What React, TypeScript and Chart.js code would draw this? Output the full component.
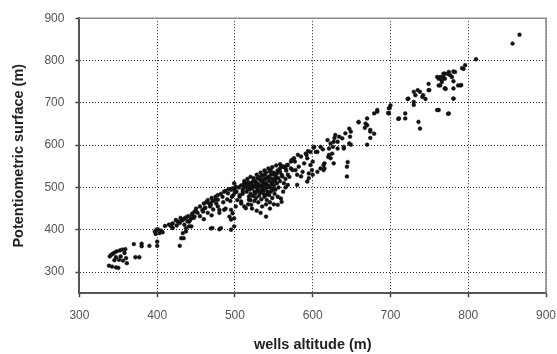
import React, { useEffect, useRef } from "react";
import { Chart, registerables } from "chart.js";

Chart.register(...registerables);

const xTicks = [300, 400, 500, 600, 700, 800, 900];
const yTicks = [300, 400, 500, 600, 700, 800, 900];

// wells altitude (m)
const altitude = [
  // low cluster
  338, 342, 347, 350, 339, 341, 343, 345, 348, 352, 355, 359, 358, 353, 347, 351, 356, 360, 345, 361,
  372, 377, 370, 380, 380, 390, 400, 400, 397, 399, 403, 401, 405, 407, 398, 410, 420, 429, 434, 424,
  429, 434, 438, 441, 445, 437, 444, 448,
  // 410-500
  431, 433, 437, 441, 435, 439, 444, 448, 450, 459, 461, 471, 482, 495, 493, 499, 497, 495, 486, 480,
  478, 469, 471, 478, 484, 486, 491, 495, 501, 499, 469, 480, 495, 499, 501,
  450, 455, 460, 465, 470, 475, 478, 482, 488, 492, 497, 452, 458, 462, 468, 472, 476, 485, 490, 494,
  496, 498, 500, 440, 445, 432, 428, 425, 420, 418, 415, 436, 442, 447, 455, 460, 465, 470, 480, 488,
  426, 430, 418, 463, 467, 474,
  // dense core
  505, 508, 510, 512, 515, 518, 520, 522, 524, 526, 528, 530, 532, 534, 536, 538, 540, 542, 544, 546,
  548, 550, 552, 555, 558, 560, 530, 532, 535, 537, 540, 542, 545, 547, 550, 552, 554, 556, 558, 525,
  520, 518, 515, 523, 527, 531, 534, 538, 541, 544, 548, 551, 555, 540, 535, 545, 550, 530, 525, 520,
  528, 533, 538, 543, 548, 553, 558, 535, 540, 545, 512, 516, 520, 524, 510, 506, 502, 500, 503, 508,
  512, 517, 522, 528, 533, 540, 545, 555, 560, 559, 562, 565, 563, 565, 568, 570, 566, 560, 556,
  506, 510, 516, 518, 521, 508, 514, 512, 523, 527, 529,
  527, 531, 536, 539, 543, 547, 551, 529, 533, 537, 541, 545, 549, 519, 523, 532, 536, 544, 548, 552,
  526, 534, 542, 550, 538, 546, 521, 529, 513, 517, 536, 540, 549, 553,
  // 550-680
  659, 670, 647, 649, 642, 634, 629, 638, 647, 627, 623, 619, 621, 625, 640, 644, 644, 615, 615, 623,
  627, 610, 602, 604, 597, 591, 593, 585, 576, 572, 568, 563, 600, 589, 582, 578, 572, 595, 595, 593,
  600, 580, 568, 561, 585, 606, 610,
  601, 594, 592, 581, 577, 567, 558, 554, 597, 599, 587, 580, 574, 565, 621, 614, 614, 670, 674, 667,
  679, 674, 632, 628, 648, 649, 640, 626, 632, 613, 606, 573, 562, 620, 645,
  // 660-870
  668, 670, 674, 679, 683, 698, 700, 698, 711, 719, 719, 723, 730, 732, 738, 741, 736, 738, 730, 749,
  749, 760, 762, 766, 770, 775, 779, 770, 781, 775, 762, 787, 783,
  866, 857, 810, 796, 792, 781, 768, 764, 770, 777, 766, 764, 781, 770, 781, 790, 781,
  659, 683, 699, 697, 710, 722, 735, 730, 742, 745, 750, 762, 768, 771, 774, 791, 794, 760, 774,
];

// potentiometric surface (m)
const surface = [
  // low cluster
  315, 313, 311, 310, 337, 341, 343, 346, 349, 351, 353, 354, 345, 337, 335, 329, 327, 333, 328, 321,
  335, 335, 366, 367, 361, 362, 362, 372, 396, 400, 392, 401, 398, 394, 390, 409, 404, 362, 380, 423,
  416, 425, 430, 419, 435, 404, 408, 443,
  // 410-500
  380, 392, 396, 408, 412, 420, 427, 431, 443, 443, 451, 404, 404, 400, 431, 427, 439, 447, 447, 447,
  455, 459, 467, 471, 478, 490, 486, 494, 502, 510, 403, 401, 424, 408, 455,
  450, 455, 462, 470, 475, 478, 482, 485, 492, 496, 498, 440, 447, 452, 455, 448, 462, 465, 472, 468,
  478, 482, 488, 432, 438, 422, 418, 410, 415, 408, 412, 428, 422, 428, 432, 425, 440, 434, 440, 450,
  420, 428, 412, 465, 462, 470,
  // dense core
  500, 505, 495, 500, 508, 503, 510, 498, 505, 515, 500, 508, 518, 505, 512, 520, 510, 525, 515, 530,
  520, 535, 528, 540, 545, 550, 495, 488, 495, 485, 498, 490, 500, 492, 505, 495, 510, 500, 515, 490,
  485, 478, 490, 480, 475, 480, 472, 478, 470, 482, 475, 485, 478, 460, 455, 465, 460, 465, 468, 470,
  530, 535, 540, 545, 548, 552, 555, 528, 535, 538, 515, 520, 525, 522, 485, 478, 490, 495, 470, 462,
  455, 460, 450, 445, 440, 431, 450, 459, 466, 474, 490, 500, 510, 520, 530, 525, 540, 530, 522,
  482, 490, 498, 471, 459, 467, 451, 510, 514, 506, 522,
  512, 503, 498, 507, 502, 508, 515, 493, 488, 493, 483, 489, 497, 495, 500, 525, 518, 523, 512, 519,
  485, 515, 505, 495, 530, 541, 505, 491, 505, 512, 502, 520, 531, 524,
  // 550-680
  655, 647, 639, 632, 628, 620, 624, 616, 604, 608, 604, 612, 592, 580, 592, 549, 526, 545, 557, 569,
  557, 596, 596, 584, 584, 580, 569, 573, 569, 561, 553, 549, 561, 557, 549, 541, 545, 533, 522, 514,
  530, 506, 506, 526, 526, 537, 545,
  594, 586, 577, 577, 561, 553, 537, 533, 553, 541, 537, 530, 541, 545, 577, 553, 541, 601, 636, 641,
  627, 617, 608, 617, 620, 601, 596, 596, 592, 590, 584, 565, 549, 572, 560,
  // 660-870
  651, 663, 632, 675, 679, 687, 694, 675, 663, 675, 663, 710, 726, 718, 726, 714, 655, 639, 702, 745,
  730, 761, 741, 753, 769, 773, 761, 734, 710, 675, 683, 741, 773,
  861, 840, 803, 789, 782, 774, 769, 761, 757, 765, 749, 741, 751, 734, 734, 741, 710,
  654, 683, 688, 676, 662, 709, 730, 695, 718, 709, 730, 757, 761, 733, 768, 742, 780, 683, 674,
];

const framePlugin = {
  id: "frame",
  afterDraw(chart: any) {
    const { ctx, chartArea } = chart;
    ctx.save();
    ctx.strokeStyle = "#8a8a8a";
    ctx.lineWidth = 1.5;
    ctx.beginPath();
    ctx.moveTo(chartArea.left, chartArea.top);
    ctx.lineTo(chartArea.right, chartArea.top);
    ctx.lineTo(chartArea.right, chartArea.bottom);
    ctx.stroke();
    ctx.restore();
  },
};

const tickFont = { family: "Liberation Sans, Arial", size: 12 };
const titleFont = { family: "Liberation Sans, Arial", size: 14.5, weight: "bold" as const };

export default function App() {
  const ref = useRef<HTMLCanvasElement | null>(null);

  useEffect(() => {
    document.body.style.margin = "0";
    const points = altitude.map((x, i) => ({ x, y: surface[i] }));
    const chart = new Chart(ref.current as HTMLCanvasElement, {
      type: "scatter",
      data: {
        datasets: [
          {
            data: points,
            pointRadius: 1.9,
            pointBackgroundColor: "#111",
            pointBorderColor: "#111",
            pointBorderWidth: 0.5,
          },
        ],
      },
      options: {
        animation: false,
        responsive: false,
        devicePixelRatio: 1,
        layout: { padding: { top: 14, right: 11, left: 10, bottom: 0 } },
        plugins: { legend: { display: false }, tooltip: { enabled: false } },
        scales: {
          x: {
            type: "linear",
            min: 300,
            max: 900,
            afterBuildTicks: (s: any) => {
              s.ticks = xTicks.map((v) => ({ value: v }));
            },
            afterFit: (s: any) => {
              s.paddingRight = 0;
            },
            ticks: { color: "#555", font: tickFont, padding: 11 },
            grid: {
              color: "#222",
              lineWidth: 1,
              tickLength: 4,
              tickColor: "#444",
              tickWidth: 1.5,
              tickBorderDash: [],
            },
            border: { color: "#555", width: 2, dash: [1, 2] },
            title: {
              display: true,
              text: "wells altitude (m)",
              color: "#222",
              font: titleFont,
              padding: { top: 3, bottom: 0 },
            },
          },
          y: {
            type: "linear",
            min: 250,
            max: 900,
            afterBuildTicks: (s: any) => {
              s.ticks = yTicks.map((v) => ({ value: v }));
            },
            ticks: { color: "#555", font: tickFont, padding: 11 },
            grid: {
              color: "#222",
              lineWidth: 1,
              tickLength: 4,
              tickColor: "#444",
              tickWidth: 1.5,
              tickBorderDash: [],
            },
            border: { color: "#555", width: 2, dash: [1, 2] },
            title: {
              display: true,
              text: "Potentiometric surface (m)",
              color: "#222",
              font: titleFont,
              padding: { top: 0, bottom: 6 },
            },
          },
        },
      },
      plugins: [framePlugin],
    });
    return () => chart.destroy();
  }, []);

  return (
    <div style={{ width: 557, height: 354, background: "#fff" }}>
      <canvas ref={ref} width={557} height={354} style={{ display: "block" }} />
    </div>
  );
}
